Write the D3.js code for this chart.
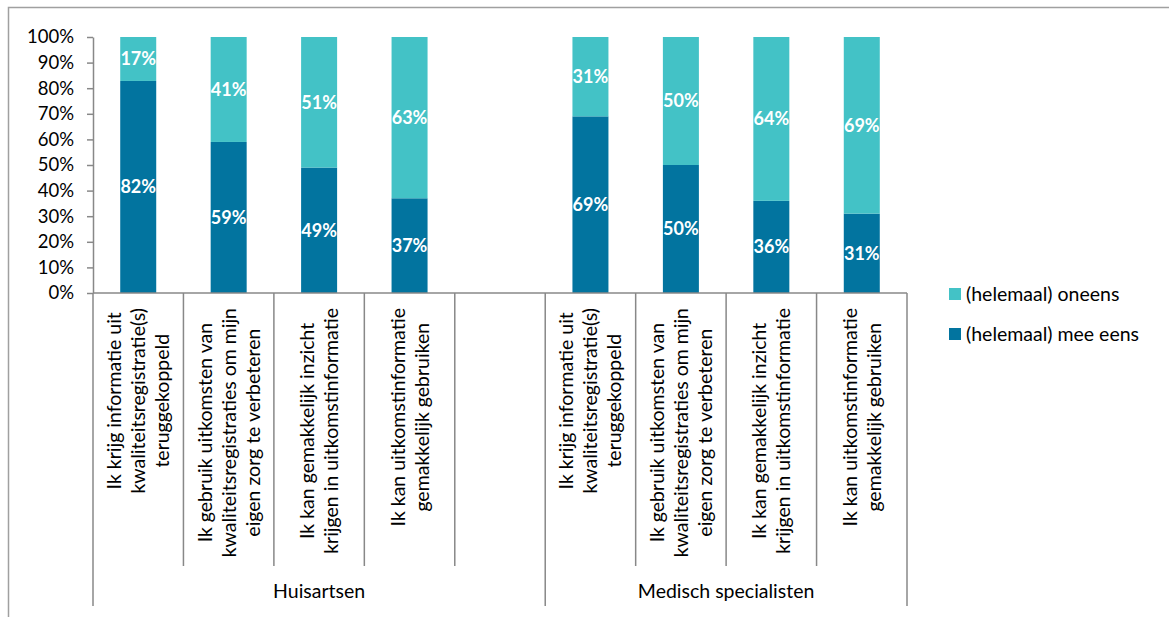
<!DOCTYPE html>
<html>
<head>
<meta charset="utf-8">
<script src="https://cdn.jsdelivr.net/npm/d3@7"></script>
<style>
  body { margin: 0; background: #fff; }
  svg { font-family: Lato, "Open Sans", sans-serif; }
</style>
</head>
<body>
<div id="chart"></div>
<script>
// data
const groups = ["Huisartsen", "Medisch specialisten"];
const statements = [
  ["Ik krijg informatie uit", "kwaliteitsregistratie(s)", "teruggekoppeld"],
  ["Ik gebruik uitkomsten van", "kwaliteitsregistraties om mijn", "eigen zorg te verbeteren"],
  ["Ik kan gemakkelijk inzicht", "krijgen in uitkomstinformatie"],
  ["Ik kan uitkomstinformatie", "gemakkelijk gebruiken"]
];
const meeEens = [[82, 59, 49, 37], [69, 50, 36, 31]];
const oneens = [[17, 41, 51, 63], [31, 50, 64, 69]];
const seriesNames = ["(helemaal) mee eens", "(helemaal) oneens"];
const yTicks = [0, 10, 20, 30, 40, 50, 60, 70, 80, 90, 100];

const colors = { dark: "#02749F", light: "#43C2C6" };

const W = 1169, H = 617;
const svg = d3.select("#chart").append("svg")
  .attr("width", W).attr("height", H);

// outer frame
svg.append("path")
  .attr("d", `M8.5,${H} L8.5,7.5 L${W},7.5`)
  .attr("fill", "none").attr("stroke", "#a0a0a0").attr("stroke-width", 1.5);

const pLeft = 93, pRight = 907, pTop = 37, pBottom = 293;
const labelSize = 19.5;

// slots: 4 statements, one empty gap, 4 statements
const slots = [];
groups.forEach((g, gi) => {
  statements.forEach((s, si) => slots.push({ key: `${gi}-${si}`, gi, si }));
  if (gi === 0) slots.push({ key: "gap", gi: 0, si: -1 });
});

const x = d3.scaleBand().domain(slots.map(d => d.key)).range([pLeft, pRight]);
const y = d3.scaleLinear().domain([0, 1]).range([pBottom, pTop]);
const barW = 36;

const rows = [];
groups.forEach((g, gi) => statements.forEach((s, si) => {
  rows.push({ key: `${gi}-${si}`, mee: meeEens[gi][si], one: oneens[gi][si] });
}));

// 100% stacked, like the source chart
const stack = d3.stack().keys(["mee", "one"]).offset(d3.stackOffsetExpand);
const stacked = stack(rows);
const fills = [colors.dark, colors.light];

const axisColor = "#888";

stacked.forEach((layer, li) => {
  const g = svg.append("g");
  g.selectAll("rect").data(layer).join("rect")
    .attr("x", d => x(d.data.key) + (x.bandwidth() - barW) / 2)
    .attr("width", barW)
    .attr("y", d => y(d[1]))
    .attr("height", d => y(d[0]) - y(d[1]))
    .attr("fill", fills[li]);
  g.selectAll("text").data(layer).join("text")
    .attr("x", d => x(d.data.key) + x.bandwidth() / 2)
    .attr("y", d => y((d[0] + d[1]) / 2))
    .attr("dy", "0.36em")
    .attr("text-anchor", "middle")
    .attr("fill", "#fff")
    .attr("font-weight", "bold")
    .attr("font-size", 18)
    .text(d => d.data[layer.key] + "%");
});

// y axis
const yAxis = d3.axisLeft(d3.scaleLinear().domain([0, 100]).range([pBottom, pTop]))
  .tickValues(yTicks).tickSize(6).tickSizeOuter(0).tickFormat(d => d + "%");
const ya = svg.append("g").attr("transform", `translate(${pLeft},0)`).call(yAxis);
ya.select(".domain").attr("stroke", axisColor).attr("stroke-width", 1.5);
ya.selectAll(".tick line").attr("stroke", axisColor).attr("stroke-width", 1.5);
ya.selectAll(".tick text").attr("x", -19).attr("font-size", 18.5).attr("fill", "#000")
  .attr("font-family", "Lato, sans-serif");

// x axis base line
svg.append("line").attr("x1", pLeft).attr("x2", pRight).attr("y1", pBottom).attr("y2", pBottom)
  .attr("stroke", axisColor).attr("stroke-width", 1.5);

// category separators
const bounds = slots.map(d => x(d.key)).concat([pRight]);
const groupBounds = [pLeft, x("1-0"), pRight];
svg.selectAll(".sep").data(bounds).join("line")
  .attr("x1", d => d).attr("x2", d => d)
  .attr("y1", pBottom)
  .attr("y2", d => groupBounds.some(b => Math.abs(b - d) < 0.5) ? 606 : 566)
  .attr("stroke", axisColor).attr("stroke-width", 1.5);

// rotated category labels
const lineGap = 24;
const labTop = 308;
slots.filter(d => d.si >= 0).forEach(d => {
  const lines = statements[d.si];
  const cx = x(d.key) + x.bandwidth() / 2;
  const g = svg.append("g");
  const texts = lines.map(ln => g.append("text")
    .attr("font-size", labelSize).attr("fill", "#000").attr("text-anchor", "middle").text(ln));
  const maxLen = d3.max(texts, t => t.node().getComputedTextLength());
  const cy = labTop + maxLen / 2;
  texts.forEach((t, i) => {
    const lx = cx + (i - (lines.length - 1) / 2) * lineGap;
    t.attr("transform", `translate(${lx + 7},${cy}) rotate(-90)`);
  });
});

// group labels
groups.forEach((g, gi) => {
  svg.append("text")
    .attr("x", (groupBounds[gi] + groupBounds[gi + 1]) / 2)
    .attr("y", 598)
    .attr("text-anchor", "middle")
    .attr("font-size", labelSize)
    .attr("fill", "#000")
    .text(g);
});

// legend
const legend = [
  { name: seriesNames[1], color: colors.light, y: 294 },
  { name: seriesNames[0], color: colors.dark, y: 334 }
];
const lg = svg.selectAll(".leg").data(legend).join("g")
  .attr("transform", d => `translate(949,${d.y})`);
lg.append("rect").attr("x", 0).attr("y", -6).attr("width", 12).attr("height", 12).attr("fill", d => d.color);
lg.append("text").attr("x", 17).attr("dy", "0.36em").attr("font-size", labelSize).attr("fill", "#000")
  .text(d => d.name);
</script>
</body>
</html>
